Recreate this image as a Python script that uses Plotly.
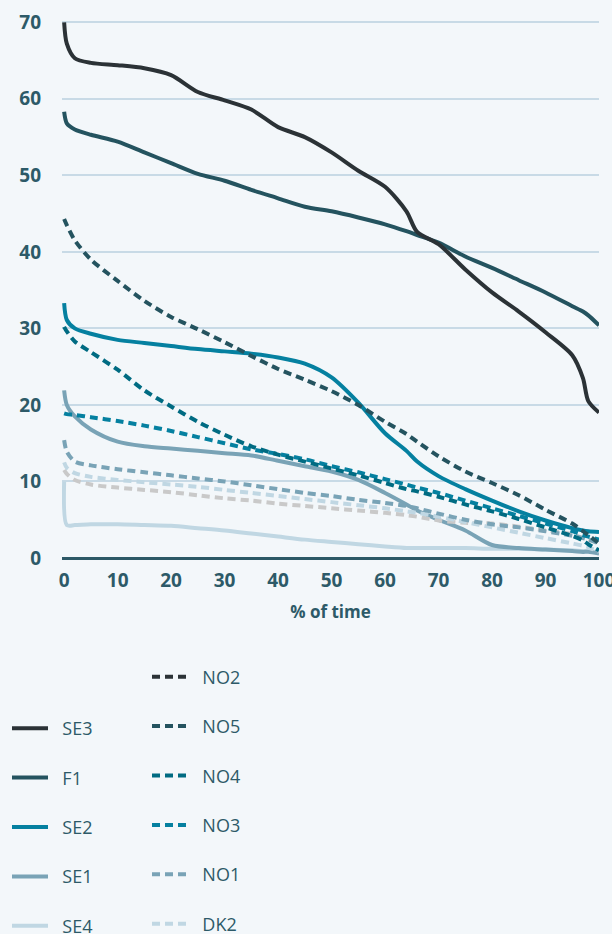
import plotly.graph_objects as go

# % of time grid
pct = [0, 0.5, 2, 5, 10, 15, 20, 25, 30, 35, 40, 45, 50, 55, 60, 64, 66, 70, 75, 80, 85, 90, 95, 97, 98, 100]

se3 = [70.0, 67.2, 65.3, 64.7, 64.4, 64.0, 63.1, 60.9, 59.8, 58.6, 56.3, 55.0, 53.0, 50.6, 48.5, 45.3, 42.6, 41.0, 37.7, 34.7, 32.2, 29.5, 26.5, 23.5, 20.5, 19.0]
f1 = [58.3, 56.8, 56.0, 55.3, 54.4, 53.0, 51.6, 50.2, 49.3, 48.1, 47.0, 45.9, 45.3, 44.5, 43.6, 42.7, 42.2, 41.2, 39.4, 37.9, 36.3, 34.7, 32.9, 32.2, 31.7, 30.4]
se2 = [33.3, 31.1, 30.0, 29.3, 28.5, 28.1, 27.7, 27.3, 27.0, 26.7, 26.2, 25.4, 23.6, 20.3, 16.3, 14.0, 12.6, 10.7, 9.0, 7.5, 6.1, 4.9, 3.9, 3.6, 3.5, 3.4]
se1 = [21.9, 20.0, 18.5, 16.8, 15.2, 14.6, 14.3, 14.0, 13.7, 13.4, 12.7, 12.0, 11.3, 10.2, 8.5, 7.0, 6.2, 5.0, 3.6, 1.7, 1.3, 1.1, 0.9, 0.8, 0.8, 0.6]
se4 = [10.0, 4.3, 4.3, 4.4, 4.4, 4.3, 4.2, 3.9, 3.6, 3.2, 2.8, 2.4, 2.1, 1.8, 1.5, 1.3, 1.3, 1.3, 1.3, 1.2, 1.2, 1.1, 1.0, 0.9, 0.9, 0.7]
no2 = [None] * 26  # listed in the legend, no visible line in the chart
no5 = [44.3, 43.5, 41.5, 39.0, 36.2, 33.6, 31.5, 29.9, 28.2, 26.4, 24.7, 23.3, 21.8, 20.0, 17.8, 16.2, 15.2, 13.3, 11.3, 9.8, 8.2, 6.3, 4.5, 3.5, 3.0, 1.9]
no4 = [30.2, 29.6, 28.3, 26.9, 24.6, 21.9, 19.8, 17.8, 16.1, 14.6, 13.5, 12.6, 11.7, 10.8, 9.8, 9.0, 8.7, 8.0, 7.0, 6.1, 5.1, 4.0, 2.9, 2.3, 1.8, 1.0]
no3 = [18.9, 18.8, 18.7, 18.4, 17.9, 17.3, 16.6, 15.8, 15.0, 14.2, 13.6, 12.9, 12.0, 11.2, 10.3, 9.6, 9.2, 8.5, 7.5, 6.5, 5.5, 4.5, 3.5, 3.0, 2.8, 2.4]
no1 = [15.4, 13.9, 12.6, 12.1, 11.6, 11.2, 10.8, 10.4, 10.0, 9.5, 9.0, 8.5, 8.1, 7.6, 7.2, 6.8, 6.5, 5.8, 5.0, 4.4, 4.0, 3.5, 2.9, 2.6, 2.4, 1.9]
dk2 = [12.5, 11.8, 11.1, 10.6, 10.2, 9.9, 9.6, 9.3, 8.9, 8.5, 8.1, 7.7, 7.3, 6.9, 6.5, 6.1, 5.9, 5.4, 4.7, 4.0, 3.3, 2.6, 1.9, 1.6, 1.4, 0.8]
dk1 = [11.5, 11.0, 10.2, 9.6, 9.2, 8.9, 8.6, 8.2, 7.8, 7.5, 7.1, 6.8, 6.5, 6.2, 5.9, 5.6, 5.4, 4.9, 4.6, 4.5, 4.1, 3.6, 3.1, 2.6, 2.4, 1.9]

y_ticks = [0, 10, 20, 30, 40, 50, 60, 70]
x_ticks = [0, 10, 20, 30, 40, 50, 60, 70, 80, 90, 100]

C_BLACK = "#2b3236"
C_DTEAL = "#24535f"
C_TEAL = "#0580a0"
C_TEAL2 = "#006b82"
C_GBLUE = "#79a3b6"
C_LBLUE = "#c0d7e3"
C_GRAY = "#c9c9c9"
TXT = "#2d5a68"
DASH = "8px,5px"
SHAPE = dict(shape="spline", smoothing=0.8)
PAD = "\u00a0\u00a0"  # small gap between legend symbol and label

fig = go.Figure()

solids = [("SE3", se3, C_BLACK), ("F1", f1, C_DTEAL), ("SE2", se2, C_TEAL),
          ("SE1", se1, C_GBLUE), ("SE4", se4, C_LBLUE)]
names_s = [s[0] for s in solids]
for name, vals, col in reversed(solids):
    fig.add_trace(go.Scatter(
        x=pct, y=vals, name=PAD + name, mode="lines",
        line=dict(color=col, width=4, **SHAPE),
        legend="legend", legendgroup=name, legendrank=names_s.index(name) + 1,
        hoverinfo="skip"))

fig.add_trace(go.Scatter(
    x=pct, y=dk1, name="DK1", mode="lines", showlegend=False,
    line=dict(color=C_GRAY, width=4, dash=DASH, **SHAPE), hoverinfo="skip"))

dashed = [("NO2", no2, C_BLACK), ("NO5", no5, C_DTEAL), ("NO4", no4, C_TEAL2),
          ("NO3", no3, C_TEAL), ("NO1", no1, C_GBLUE), ("DK2", dk2, C_LBLUE)]
names_d = [s[0] for s in dashed]
for name, vals, col in reversed(dashed):
    fig.add_trace(go.Scatter(
        x=pct, y=vals, name=PAD + name, mode="lines",
        line=dict(color=col, width=4, dash=DASH, **SHAPE),
        legend="legend2", legendgroup=name, legendrank=names_d.index(name) + 1,
        hoverinfo="skip"))

legend_common = dict(
    xref="container", yref="container", yanchor="top", xanchor="left",
    bgcolor="rgba(0,0,0,0)", borderwidth=0,
    font=dict(family="Open Sans", size=18, color=TXT),
    tracegroupgap=23, traceorder="grouped", itemwidth=36,
    orientation="v",
)

fig.update_layout(
    width=612, height=934,
    margin=dict(l=62, r=13, t=20, b=376, autoexpand=False),
    paper_bgcolor="#f3f7fa", plot_bgcolor="#f3f7fa",
    font=dict(family="Open Sans", color=TXT),
    showlegend=True,
    legend=dict(x=7 / 612, y=1 - 710 / 934, **legend_common),
    legend2=dict(x=147 / 612, y=1 - 658.5 / 934, **legend_common),
    xaxis=dict(
        range=[-0.4, 100], tickvals=x_ticks, showgrid=False, zeroline=False,
        showline=False, ticks="", ticklabeloverflow="allow", ticklabelstandoff=9,
        tickfont=dict(family="Open Sans", size=19, color=TXT, weight="bold"),
        title=dict(text="% of time", standoff=14,
                   font=dict(family="Open Sans", size=17, color=TXT, weight="bold")),
    ),
    yaxis=dict(
        range=[0, 70.3], tickvals=y_ticks, showgrid=True, gridcolor="#c8dae6",
        gridwidth=1.5, zeroline=True, zerolinecolor="#2c5866", zerolinewidth=2.5,
        showline=False, ticks="", ticklabelstandoff=20,
        tickfont=dict(family="Open Sans", size=19, color=TXT, weight="bold"),
    ),
)

fig.write_html("out.html", config={"displayModeBar": False},
               post_script="document.body.style.margin='0';")
